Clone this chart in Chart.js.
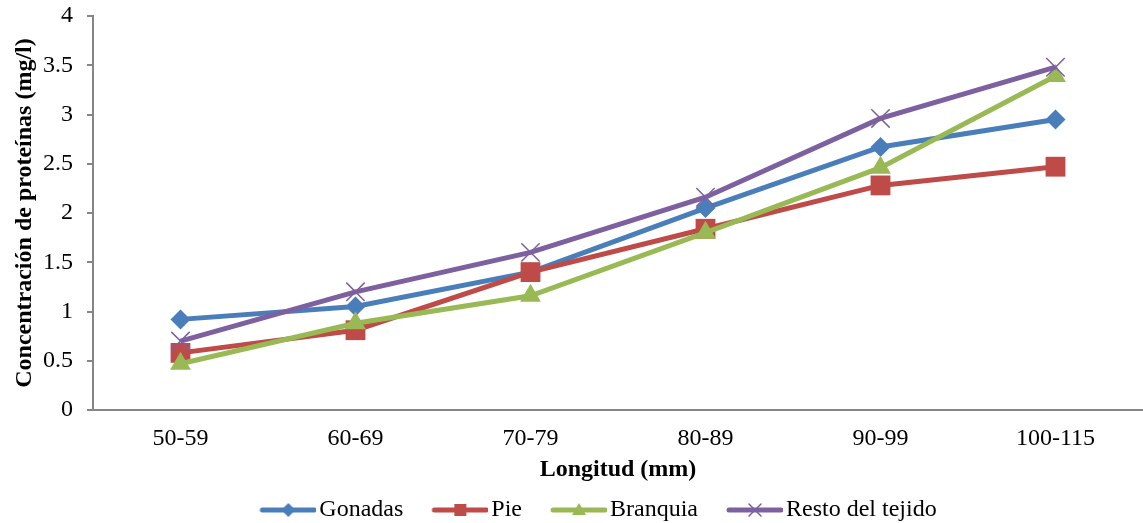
<!DOCTYPE html>
<html>
<head>
<meta charset="utf-8">
<script src="https://cdn.jsdelivr.net/npm/chart.js@4/dist/chart.umd.min.js"></script>
<style>
  html, body { margin: 0; padding: 0; background: #fff; overflow: hidden; }
  #wrap { width: 1143px; height: 523px; position: relative; }
</style>
</head>
<body>
<div id="wrap"><canvas id="proteinas"></canvas></div>
<script>
var longitudes = ['50-59', '60-69', '70-79', '80-89', '90-99', '100-115'];
var gonadas = [0.92, 1.05, 1.40, 2.05, 2.67, 2.95];
var pie = [0.58, 0.81, 1.40, 1.84, 2.28, 2.47];
var branquia = [0.47, 0.88, 1.16, 1.80, 2.46, 3.39];
var resto = [0.70, 1.20, 1.60, 2.16, 2.96, 3.48];
var seriesNames = ['Gonadas', 'Pie', 'Branquia', 'Resto del tejido'];

var azul = '#4A7EBB', rojo = '#BE4B48', verde = '#98B954', morado = '#7D60A0';
var serif = '"Liberation Serif", "Times New Roman", serif';

Chart.defaults.font.family = serif;
Chart.defaults.color = '#000';

// legend icon: line with the marker in the middle (drawn offset so it sits close to the text)
function legendIcon(color, shape) {
  var c = document.createElement('canvas');
  c.width = 89; c.height = 20;
  var g = c.getContext('2d');
  g.strokeStyle = color; g.fillStyle = color;
  g.lineWidth = 5; g.lineCap = 'round';
  g.beginPath(); g.moveTo(35, 10); g.lineTo(87, 10); g.stroke();
  var cx = 61, cy = 10;
  g.beginPath();
  if (shape == 'diamond') {
    g.moveTo(cx, cy - 7); g.lineTo(cx + 7, cy); g.lineTo(cx, cy + 7); g.lineTo(cx - 7, cy); g.closePath(); g.fill();
  } else if (shape == 'square') {
    g.fillRect(cx - 6, cy - 6, 12, 12);
  } else if (shape == 'triangle') {
    g.moveTo(cx, cy - 7); g.lineTo(cx + 7, cy + 5); g.lineTo(cx - 7, cy + 5); g.closePath(); g.fill();
  } else {
    g.lineWidth = 1.5;
    g.moveTo(cx - 6, cy - 6); g.lineTo(cx + 6, cy + 6);
    g.moveTo(cx + 6, cy - 6); g.lineTo(cx - 6, cy + 6); g.stroke();
  }
  return c;
}
var icons = [legendIcon(azul, 'diamond'), legendIcon(rojo, 'square'),
             legendIcon(verde, 'triangle'), legendIcon(morado, 'cross')];

// nudge the legend a little right and down, like the original
var legendNudge = {
  id: 'legendNudge',
  afterLayout: function(chart) {
    var lg = chart.legend;
    lg.left += 10; lg.right += 10;
    lg.top += 9; lg.bottom += 9;
  }
};

var ctx = document.getElementById('proteinas').getContext('2d');
var myChart = new Chart(ctx, {
  type: 'line',
  data: {
    labels: longitudes,
    datasets: [
      { label: seriesNames[0], data: gonadas, borderColor: azul, backgroundColor: azul,
        borderWidth: 5, pointStyle: 'rectRot', pointRadius: 10, pointBorderWidth: 0, order: 4 },
      { label: seriesNames[1], data: pie, borderColor: rojo, backgroundColor: rojo,
        borderWidth: 5, pointStyle: 'rect', pointRadius: 14, pointBorderWidth: 0, order: 3 },
      { label: seriesNames[2], data: branquia, borderColor: verde, backgroundColor: verde,
        borderWidth: 5, pointStyle: 'triangle', pointRadius: 12, pointBorderWidth: 0, order: 2 },
      { label: seriesNames[3], data: resto, borderColor: morado, backgroundColor: morado,
        borderWidth: 5, pointStyle: 'crossRot', pointRadius: 13, pointBorderWidth: 1.5, order: 1 }
    ]
  },
  plugins: [legendNudge],
  options: {
    responsive: true,
    maintainAspectRatio: false,
    animation: false,
    layout: { autoPadding: false, padding: { top: 16, right: 0, bottom: 0, left: 10 } },
    plugins: {
      tooltip: { enabled: false },
      legend: {
        position: 'bottom',
        labels: {
          usePointStyle: true,
          pointStyleWidth: 71,
          padding: 5,
          font: { size: 24, family: serif },
          color: '#000',
          generateLabels: function(chart) {
            return chart.data.datasets.map(function(ds, i) {
              return { text: ds.label, pointStyle: icons[i], fillStyle: ds.borderColor,
                       strokeStyle: ds.borderColor, lineWidth: 0, hidden: false, datasetIndex: i,
                       fontColor: '#000' };
            });
          }
        }
      }
    },
    scales: {
      x: {
        offset: true,
        afterFit: function(scale) { scale.height = 74; scale.paddingLeft = 0; scale.paddingRight = 0; },
        grid: { display: false, drawTicks: false, offset: true },
        border: { color: '#868686', width: 2 },
        ticks: { padding: 14, font: { size: 24 }, color: '#000', maxRotation: 0 },
        title: { display: true, text: 'Longitud (mm)', font: { size: 24, weight: 'bold' },
                 color: '#000', padding: { top: 3, bottom: 0 } }
      },
      y: {
        min: 0, max: 4,
        afterFit: function(scale) { scale.width = 83; scale.paddingTop = 0; scale.paddingBottom = 0; },
        ticks: { stepSize: 0.5, padding: 14, font: { size: 24 }, color: '#000',
                 callback: function(v) { return v; } },
        grid: { drawOnChartArea: false, drawTicks: true, tickLength: 6, color: '#868686', lineWidth: 2 },
        border: { color: '#868686', width: 2 },
        title: { display: true, text: 'Concentración de proteínas (mg/l)', font: { size: 24, weight: 'bold' },
                 color: '#000', padding: 0 }
      }
    }
  }
});
</script>
</body>
</html>
